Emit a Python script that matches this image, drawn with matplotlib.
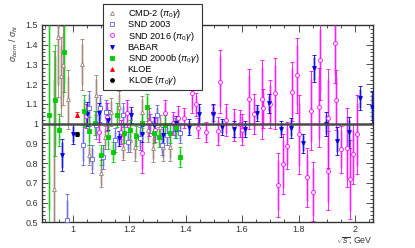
import numpy as np
import matplotlib.pyplot as plt
from matplotlib.lines import Line2D
from matplotlib.ticker import MultipleLocator

plt.rcParams['font.family'] = ['Liberation Sans', 'DejaVu Sans']
plt.rcParams['mathtext.fontset'] = 'custom'
plt.rcParams['mathtext.rm'] = 'Liberation Sans'
plt.rcParams['mathtext.it'] = 'Liberation Sans:italic'

# CMD-2 (pi0 gamma)
cmd2_x = [0.935, 0.949, 0.959, 0.967, 0.984, 1.032, 1.059, 1.083, 1.100, 1.115,
          1.135, 1.162, 1.179, 1.203, 1.221, 1.244, 1.268, 1.283, 1.309, 1.319, 1.345]
cmd2_y = [0.667, 1.436, 1.24, 1.296, 1.123, 1.30, 0.841, 1.144, 0.748, 0.93,
          1.06, 1.085, 0.875, 0.917, 0.883, 1.06, 0.967, 0.875, 0.984, 0.883, 0.883]
cmd2_e = [0.7, 0.3, 0.2, 0.2, 0.15, 0.13, 0.05, 0.1, 0.07, 0.06,
          0.07, 0.08, 0.06, 0.06, 0.07, 0.08, 0.06, 0.07, 0.06, 0.07, 0.07]

# SND 2003
snd03_x = [0.979, 1.035, 1.058, 1.069, 1.083, 1.097, 1.108, 1.118, 1.150, 1.177,
           1.197, 1.238, 1.274, 1.300, 1.315, 1.333, 1.362, 1.380]
snd03_y = [0.512, 0.891, 1.077, 0.82, 0.993, 1.077, 0.832, 1.06, 0.917, 1.043,
           0.908, 0.925, 1.001, 1.043, 0.891, 0.942, 0.976, 0.951]
snd03_e = [0.13, 0.1, 0.09, 0.07, 0.07, 0.07, 0.06, 0.06, 0.06, 0.06,
           0.05, 0.06, 0.05, 0.05, 0.05, 0.05, 0.05, 0.05]

# SND 2016 (pi0 gamma)
snd16_x = [1.047, 1.094, 1.120, 1.170, 1.191, 1.244, 1.271, 1.291, 1.327, 1.354,
           1.374, 1.395, 1.422, 1.436, 1.445, 1.472, 1.495, 1.514, 1.522, 1.542,
           1.572, 1.592, 1.598, 1.625, 1.643, 1.669, 1.675, 1.697, 1.717, 1.726,
           1.744, 1.760, 1.776, 1.793, 1.802, 1.829, 1.843, 1.852, 1.874, 1.876,
           1.903, 1.905, 1.929, 1.931, 1.949, 1.971, 1.982, 1.992, 2.008]
snd16_y = [1.04, 0.959, 1.035, 0.959, 1.052, 0.85, 1.009, 0.967, 1.052, 1.001,
           1.027, 1.03, 1.153, 1.097, 0.979, 0.959, 1.052, 0.964, 1.212, 1.018,
           0.993, 1.0, 0.97, 1.124, 1.048, 1.124, 1.077, 1.10, 1.153, 0.689,
           0.795, 0.888, 1.161, 1.245, 0.946, 0.728, 1.065, 0.655, 1.082, 1.321,
           0.762, 1.027, 1.406, 1.119, 0.870, 0.878, 0.719, 0.846, 0.946]
snd16_e = [0.06, 0.05, 0.07, 0.06, 0.07, 0.1, 0.07, 0.06, 0.07, 0.06,
           0.06, 0.05, 0.1, 0.06, 0.05, 0.05, 0.04, 0.07, 0.16, 0.08,
           0.08, 0.07, 0.08, 0.15, 0.1, 0.2, 0.1, 0.12, 0.18, 0.16,
           0.15, 0.12, 0.15, 0.19, 0.2, 0.15, 0.2, 0.15, 0.2, 0.2,
           0.2, 0.25, 0.2, 0.15, 0.12, 0.2, 0.2, 0.15, 0.2]

# BABAR
babar_x = [0.961, 1.000, 1.05, 1.093, 1.123, 1.165, 1.205, 1.244, 1.286, 1.321,
           1.366, 1.410, 1.448, 1.495, 1.530, 1.572, 1.610, 1.652, 1.695, 1.736,
           1.773, 1.815, 1.856, 1.897, 1.937, 1.979, 2.018, 2.061]
babar_y = [0.841, 0.947, 1.05, 1.052, 1.018, 0.925, 1.043, 0.947, 0.993, 0.942,
           1.001, 0.981, 1.048, 1.05, 0.984, 0.971, 0.972, 1.055, 1.102, 0.972,
           0.979, 0.90, 1.279, 0.998, 0.912, 0.956, 1.128, 1.085]
babar_e = [0.08, 0.05, 0.06, 0.05, 0.05, 0.04, 0.04, 0.04, 0.04, 0.04,
           0.04, 0.04, 0.05, 0.05, 0.04, 0.04, 0.04, 0.04, 0.05, 0.04,
           0.05, 0.05, 0.07, 0.06, 0.07, 0.08, 0.06, 0.08]

# SND 2000b (pi0 gamma)
snd00_x = [0.917, 0.938, 0.950, 0.969, 1.041, 1.059, 1.077, 1.100, 1.123, 1.142,
           1.158, 1.183, 1.203, 1.223, 1.244, 1.264, 1.286, 1.306, 1.325, 1.345,
           1.365, 1.380]
snd00_y = [1.042, 1.118, 0.967, 1.36, 1.063, 0.962, 1.003, 0.84, 0.934, 0.858,
           1.043, 0.951, 0.967, 0.937, 1.004, 1.082, 0.951, 0.934, 0.993, 0.951,
           0.976, 0.832]
snd00_e = [0.6, 0.28, 0.08, 0.2, 0.08, 0.07, 0.06, 0.05, 0.06, 0.05,
           0.06, 0.05, 0.05, 0.05, 0.05, 0.07, 0.05, 0.05, 0.05, 0.05,
           0.05, 0.05]

# KLOE and KLOE (pi0 gamma)
kloe_x, kloe_y, kloe_e = [1.016], [1.045], [0.012]
kloe2_x, kloe2_y, kloe2_e = [1.016], [0.947], [0.012]

fig = plt.figure(figsize=(4.15, 2.48), dpi=100)
ax = fig.add_axes([0.102, 0.103, 0.797, 0.797])

series = [
    (cmd2_x, cmd2_y, cmd2_e, '^', '#9a7f72', '#d6c9c2', 'none', 'CMD-2 ($\\pi_0\\gamma$)'),
    (snd03_x, snd03_y, snd03_e, 's', '#6262e4', '#c0c0f4', 'none', 'SND 2003'),
    (snd16_x, snd16_y, snd16_e, 'o', '#ff00ff', '#ffa0ff', 'none', 'SND 2016 ($\\pi_0\\gamma$)'),
    (babar_x, babar_y, babar_e, 'v', '#0000e0', '#9090ec', 'full', 'BABAR'),
    (snd00_x, snd00_y, snd00_e, 's', '#00cc00', '#a0e8a0', 'full', 'SND 2000b ($\\pi_0\\gamma$)'),
    (kloe_x, kloe_y, kloe_e, '^', '#ff0000', '#ff9090', 'full', 'KLOE'),
    (kloe2_x, kloe2_y, kloe2_e, 'o', '#000000', '#909090', 'full', 'KLOE ($\\pi_0\\gamma$)'),
]

handles = []
for x, y, e, m, c, lc, fill, lab in series:
    x = np.array(x); y = np.array(y); e = np.array(e)
    ax.vlines(x, y - e * 0.8, y + e * 0.8, colors=lc, lw=1.8, zorder=2)
    ax.errorbar(x, y, yerr=e, fmt='none', ecolor=c, elinewidth=0.6,
                capsize=1.1, capthick=0.6, zorder=3)
    mfc = 'white' if fill == 'none' else c
    ax.plot(x, y, m, ms=2.8, mec=c, mfc=mfc, mew=0.6, ls='none', zorder=4)
    handles.append(Line2D([], [], marker=m, ms=2.8, mec=c, mfc=mfc, mew=0.6,
                          ls='none', label=lab))

ax.axhline(1.0, color='#4a4a4a', lw=1.8, zorder=5)

ax.set_xlim(0.892, 2.064)
ax.set_ylim(0.5, 1.5)
ax.xaxis.set_minor_locator(MultipleLocator(0.05))
ax.yaxis.set_minor_locator(MultipleLocator(0.02))
ax.set_xticks([1.0, 1.2, 1.4, 1.6, 1.8, 2.0])
ax.set_xticklabels(['1', '1.2', '1.4', '1.6', '1.8', '2'])
ax.set_yticks(np.round(np.arange(0.5, 1.51, 0.1), 1))
ax.set_yticklabels(['0.5', '0.6', '0.7', '0.8', '0.9', '1', '1.1', '1.2', '1.3', '1.4', '1.5'])
ax.tick_params(which='both', direction='in', top=True, right=True, labelsize=6.5,
               labelcolor='#333333', color='#333333', width=0.6)
ax.tick_params(which='major', length=5, pad=3)
ax.tick_params(axis='x', which='major', pad=2)
ax.tick_params(which='minor', length=2.5)
for s in ax.spines.values():
    s.set_linewidth(1.0)
    s.set_color('#333333')

fig.text(373 / 415, 1 - 241 / 248, '$\\sqrt{s}$, GeV', fontsize=6.3, ha='right',
         va='center', color='#333333')
fig.text(14 / 415, 1 - 25 / 248, '$\\sigma_{born}$ / $\\sigma_{fit}$', fontsize=6.3,
         rotation=90, ha='center', va='top', color='#333333')

leg = fig.legend(handles=handles, loc='upper left', bbox_to_anchor=(0.248, 0.982),
                 fontsize=6.6, frameon=True, fancybox=False, edgecolor='#333333',
                 framealpha=1, labelspacing=0.02, handlelength=1.4,
                 handletextpad=1.0, borderpad=0.3, borderaxespad=0)
leg.get_frame().set_linewidth(0.8)

fig.savefig('out.png', dpi=100)
